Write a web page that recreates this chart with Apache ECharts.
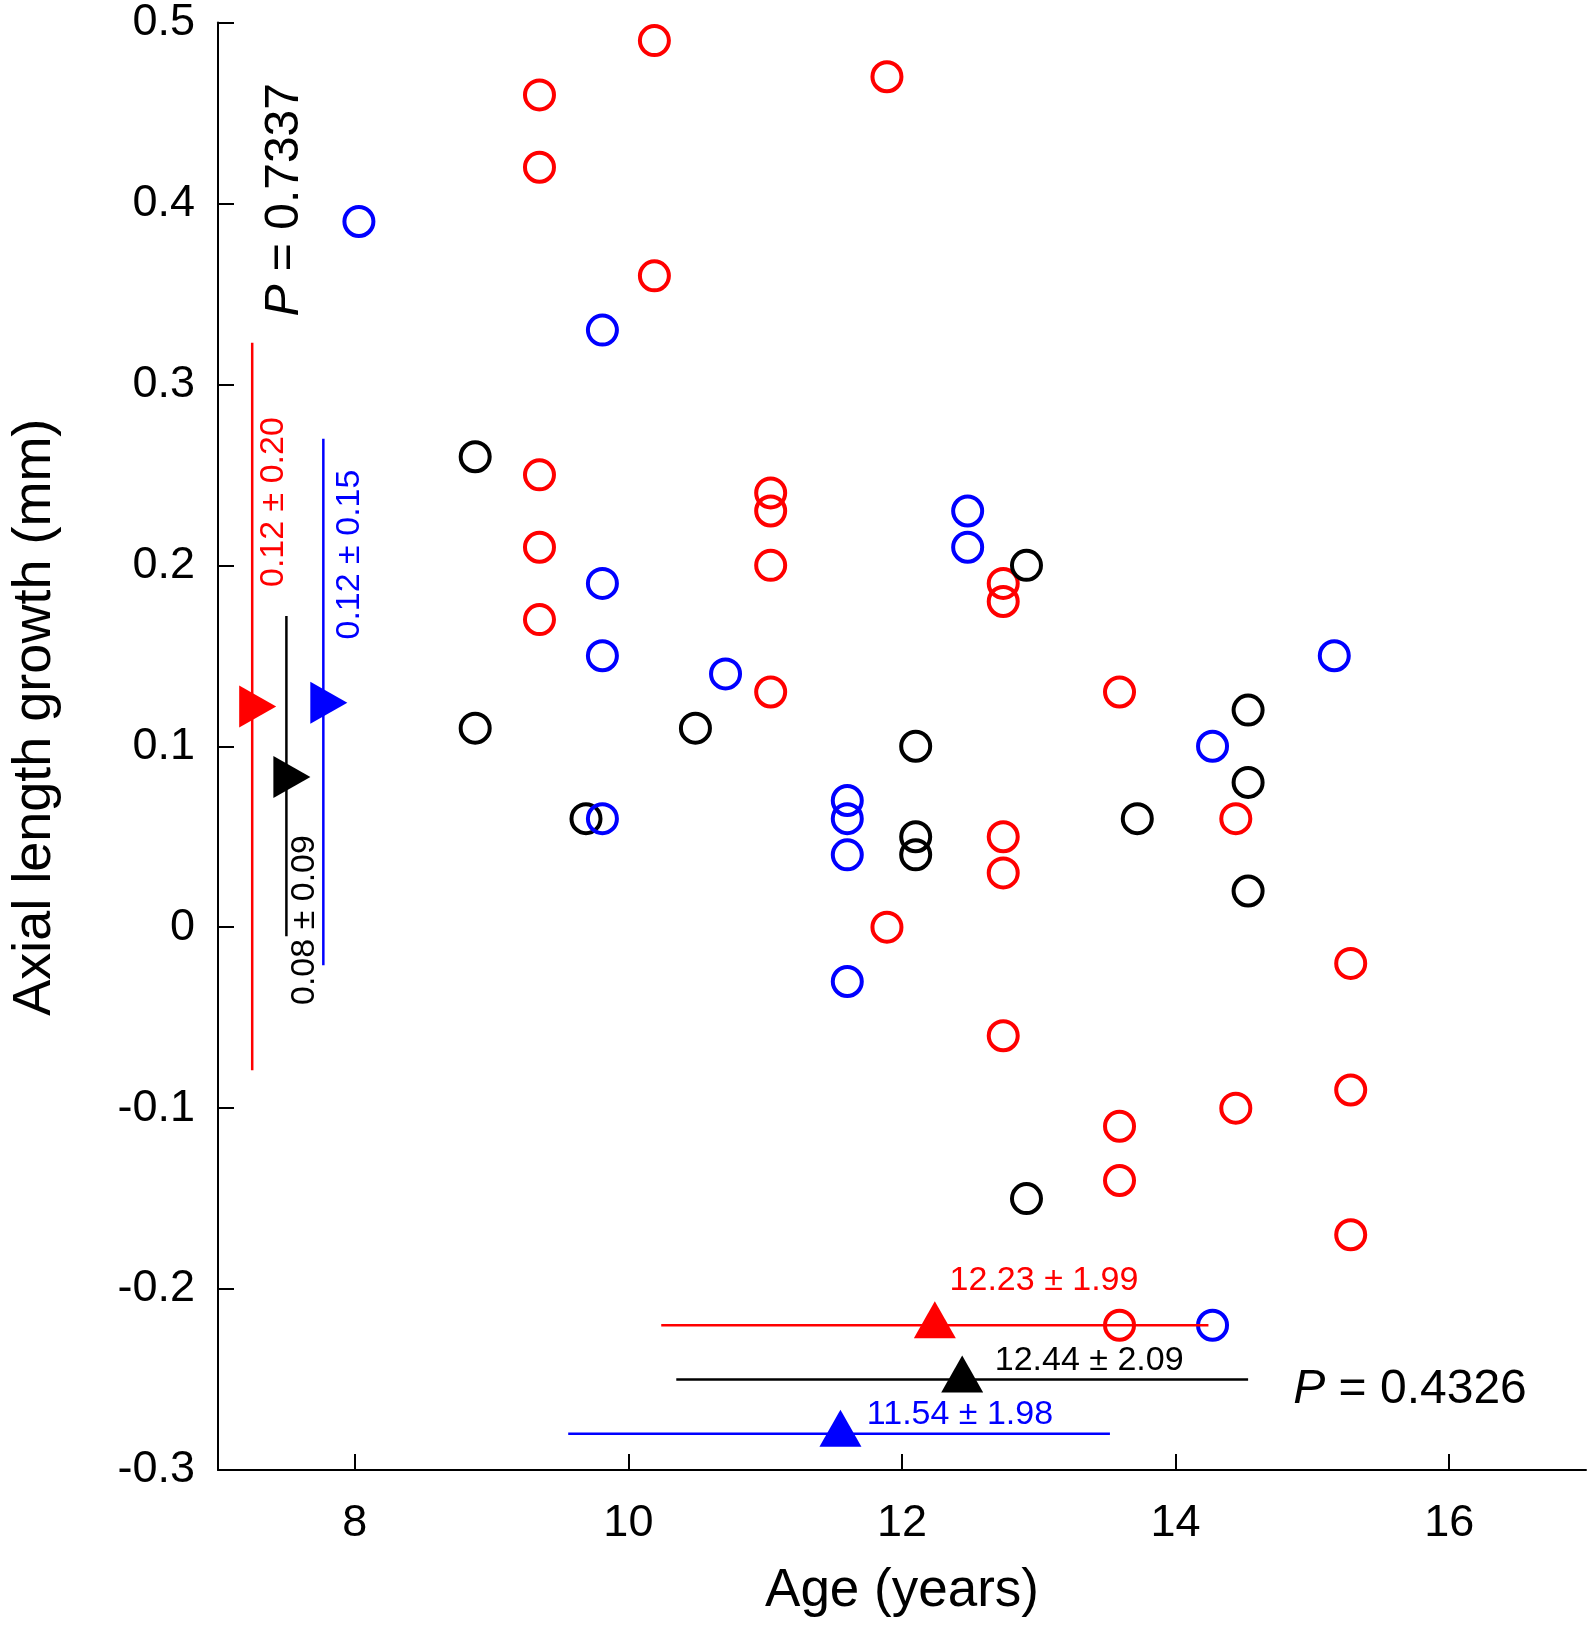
<!DOCTYPE html>
<html>
<head>
<meta charset="utf-8">
<title>Axial length growth vs age</title>
<script src="https://cdn.jsdelivr.net/npm/echarts@6/dist/echarts.min.js"></script>
<style>
  html, body { margin: 0; padding: 0; background: #ffffff; }
  #main { width: 1591px; height: 1627px; }
</style>
</head>
<body>
<div id="main"></div>
<script>
// ---- data: [age (years), axial length growth (mm)] ----
var redPoints = [
  [10.19, 0.49], [9.35, 0.46], [9.35, 0.42], [10.19, 0.36], [11.89, 0.47],
  [9.35, 0.25], [9.35, 0.21], [9.35, 0.17],
  [11.04, 0.24], [11.04, 0.23], [11.04, 0.20], [11.04, 0.13],
  [12.74, 0.19], [12.74, 0.18], [12.74, 0.05], [12.74, 0.03], [12.74, -0.06],
  [11.89, 0.00],
  [13.59, 0.13], [13.59, -0.11], [13.59, -0.14], [13.59, -0.22],
  [14.44, 0.06], [14.44, -0.10],
  [15.28, -0.02], [15.28, -0.09], [15.28, -0.17]
];
var blackPoints = [
  [8.88, 0.26], [8.88, 0.11], [9.69, 0.06], [10.49, 0.11],
  [12.10, 0.10], [12.10, 0.05], [12.10, 0.04],
  [12.91, 0.20], [12.91, -0.15], [13.72, 0.06],
  [14.53, 0.12], [14.53, 0.08], [14.53, 0.02]
];
var bluePoints = [
  [8.03, 0.39], [9.81, 0.33], [9.81, 0.19], [9.81, 0.15], [9.81, 0.06],
  [10.71, 0.14], [11.60, 0.07], [11.60, 0.06], [11.60, 0.04], [11.60, -0.03],
  [12.48, 0.23], [12.48, 0.21], [14.27, 0.10], [14.27, -0.22], [15.16, 0.15]
];

// group order everywhere below: red, black, blue
var groupColors = ['#ff0000', '#000000', '#0000ff'];

// growth mean ± SD, drawn as vertical bars near the y axis
var growthBarX = [7.25, 7.50, 7.77];
var growthMean = [0.122, 0.083, 0.124];
var growthLow = [-0.079, -0.005, -0.021];
var growthHigh = [0.323, 0.172, 0.270];
var growthText = ['0.12 ± 0.20', '0.08 ± 0.09', '0.12 ± 0.15'];

// age mean ± SD, drawn as horizontal bars near the x axis
var ageBarY = [-0.22, -0.25, -0.28];
var ageMean = [12.24, 12.44, 11.55];
var ageLow = [10.24, 10.35, 9.56];
var ageHigh = [14.24, 14.53, 13.52];
var ageText = ['12.23 ± 1.99', '12.44 ± 2.09', '11.54 ± 1.98'];

var pGrowth = '0.7337';
var pAge = '0.4326';

var xTicks = [8, 10, 12, 14, 16];

// ---- annotation placement (data coordinates) ----
var growthTextAt = [[7.41, 0.188], [7.631, -0.043], [7.964, 0.159]];
var ageTextAt = [[12.348, -0.1954], [12.678, -0.2398], [11.743, -0.2694]];
var pGrowthAt = [7.486, 0.3375];
var pAgeAt = [14.86, -0.2558];

var FONT = '"Liberation Sans", Arial, Helvetica, sans-serif';

var chart = echarts.init(document.getElementById('main'));

function circles(points, color) {
  return {
    type: 'scatter',
    data: points,
    symbol: 'circle',
    symbolSize: 29,
    itemStyle: { color: 'rgba(0,0,0,0)', borderColor: color, borderWidth: 4, opacity: 1 },
    silent: true,
    z: 2
  };
}

var segments = [];
for (var i = 0; i < 3; i++) {
  segments.push([growthBarX[i], growthLow[i], growthBarX[i], growthHigh[i], i]);
  segments.push([ageLow[i], ageBarY[i], ageHigh[i], ageBarY[i], i]);
}

var growthMarks = growthMean.map(function (m, i) {
  return { value: [growthBarX[i], m], itemStyle: { color: groupColors[i] } };
});
var ageMarks = ageMean.map(function (m, i) {
  return { value: [m, ageBarY[i]], itemStyle: { color: groupColors[i] } };
});

var labels = [];
growthText.forEach(function (t, i) {
  labels.push({ value: growthTextAt[i], text: t, color: groupColors[i], rotate: true, size: 34 });
});
ageText.forEach(function (t, i) {
  labels.push({ value: ageTextAt[i], text: t, color: groupColors[i], rotate: false, size: 34 });
});
labels.push({ value: pGrowthAt, text: pGrowth, color: '#000', rotate: true, size: 48, p: true });
labels.push({ value: pAgeAt, text: pAge, color: '#000', rotate: false, size: 48, p: true });

var option = {
  animation: false,
  backgroundColor: '#ffffff',
  grid: { left: 208, right: 5, top: 21, bottom: 157, containLabel: false },
  xAxis: {
    type: 'value',
    min: 7,
    max: 17,
    name: 'Age (years)',
    nameLocation: 'middle',
    nameGap: 95,
    nameTextStyle: { fontFamily: FONT, fontSize: 53, color: '#000' },
    axisLine: { show: true, onZero: false, lineStyle: { color: '#000', width: 2 } },
    axisTick: { show: true, inside: true, length: 16, customValues: xTicks, lineStyle: { color: '#000', width: 2 } },
    axisLabel: { customValues: xTicks, margin: 31, fontFamily: FONT, fontSize: 45, color: '#000' },
    splitLine: { show: false }
  },
  yAxis: {
    type: 'value',
    min: -0.3,
    max: 0.5,
    interval: 0.1,
    name: 'Axial length growth (mm)',
    nameLocation: 'middle',
    nameGap: 156,
    nameTextStyle: { fontFamily: FONT, fontSize: 54, color: '#000', padding: [0, 0, 0, 58] },
    axisLine: { show: true, onZero: false, lineStyle: { color: '#000', width: 2 } },
    axisTick: { show: true, inside: true, length: 16, lineStyle: { color: '#000', width: 2 } },
    axisLabel: { margin: 23, fontFamily: FONT, fontSize: 45, color: '#000', padding: [6, 0, 0, 0] },
    splitLine: { show: false }
  },
  series: [
    circles(redPoints, groupColors[0]),
    circles(blackPoints, groupColors[1]),
    circles(bluePoints, groupColors[2]),
    {
      type: 'custom',
      data: segments,
      encode: { x: [0, 2], y: [1, 3] },
      silent: true,
      z: 3,
      renderItem: function (params, api) {
        var a = api.coord([api.value(0), api.value(1)]);
        var b = api.coord([api.value(2), api.value(3)]);
        return {
          type: 'line',
          shape: { x1: a[0], y1: a[1], x2: b[0], y2: b[1] },
          style: { stroke: groupColors[api.value(4)], lineWidth: 2.5 }
        };
      }
    },
    {
      type: 'scatter',
      data: growthMarks,
      symbol: 'triangle',
      symbolSize: [42, 37],
      symbolRotate: -90,
      symbolOffset: [5.5, 0],
      itemStyle: { opacity: 1 },
      silent: true,
      z: 4
    },
    {
      type: 'scatter',
      data: ageMarks,
      symbol: 'triangle',
      symbolSize: [42, 37],
      symbolOffset: [0, -5.5],
      itemStyle: { opacity: 1 },
      silent: true,
      z: 4
    },
    {
      type: 'custom',
      data: labels,
      silent: true,
      z: 5,
      renderItem: function (params, api) {
        var d = labels[params.dataIndex];
        var pt = api.coord(d.value);
        var style = {
          fill: d.color,
          fontSize: d.size,
          fontFamily: FONT,
          align: 'left',
          verticalAlign: 'middle'
        };
        if (d.p) {
          style.text = '{i|P}{n| = ' + d.text + '}';
          style.rich = {
            i: { fontStyle: 'italic', fontSize: d.size, fontFamily: FONT, fill: d.color },
            n: { fontSize: d.size, fontFamily: FONT, fill: d.color }
          };
        } else {
          style.text = d.text;
        }
        return {
          type: 'text',
          x: pt[0],
          y: pt[1],
          rotation: d.rotate ? Math.PI / 2 : 0,
          style: style
        };
      }
    }
  ]
};

chart.setOption(option);
</script>
</body>
</html>
